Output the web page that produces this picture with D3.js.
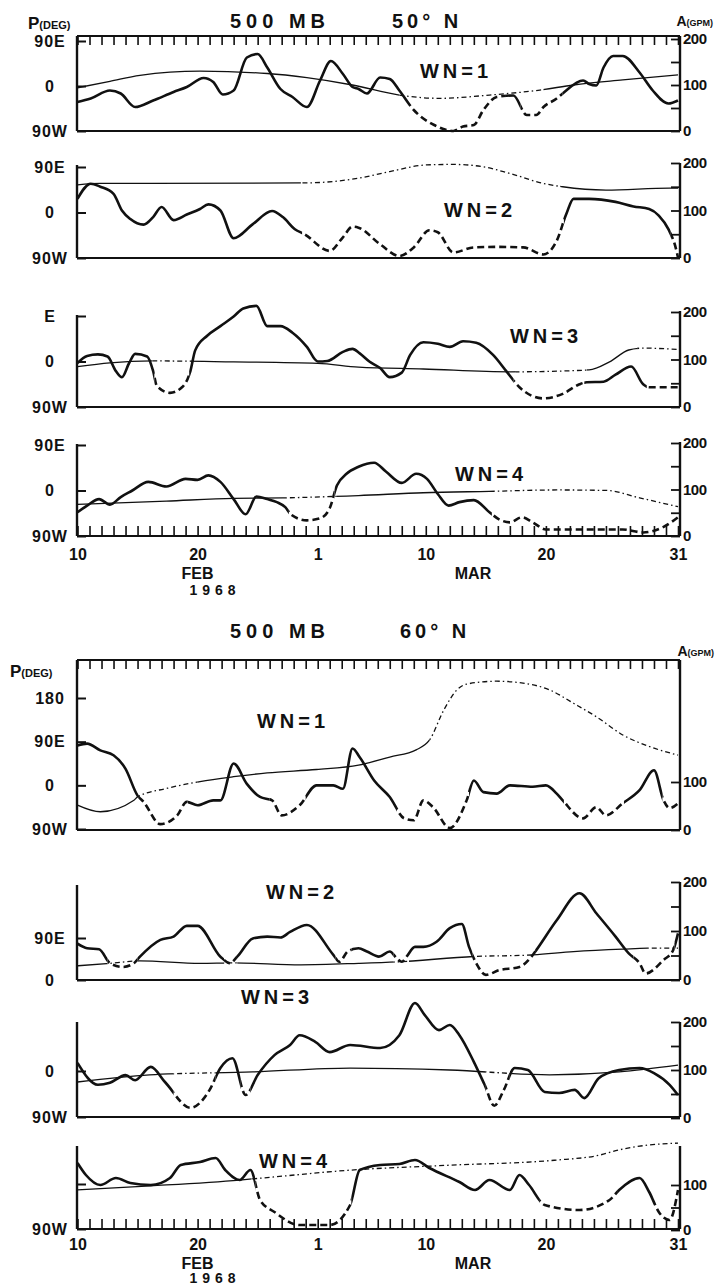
<!DOCTYPE html>
<html><head><meta charset="utf-8">
<script src="https://cdn.jsdelivr.net/npm/d3@7"></script>
<style>
body{margin:0;background:#fff}
text{font-family:"Liberation Sans",Arial,sans-serif;fill:#111}
</style>
</head><body>
<svg id="c" width="717" height="1285"></svg>
<script>
// ---------- DATA (day index: 0 = 10 Feb 1968, 50 = 31 Mar 1968) ----------
const xTickDays = d3.range(0, 51);
const xLabelDays = [0, 10, 20, 29, 39, 50];
const xLabelText = ["10", "20", "1", "10", "20", "31"];

// 50N WN=1
const n50w1Phase = [[0,-32],[1.1,-25],[2.7,-9],[3.6,-15],[4.8,-42],[6.3,-29],[8,-12],[9.1,-2],[10.5,16],[11.3,8],[12.1,-17],[13,-9],[14.1,57],[15,64],[15.8,37],[16.9,-6],[17.9,-22],[19.1,-42],[20.2,11],[21.1,50],[22.1,24],[22.9,-2],[23.4,-6],[24.1,-15],[25.2,17],[26,14],[26.8,-9],[28,-48],[29.7,-78],[31.3,-90],[32.1,-81],[33,-78],[33.8,-48],[34.9,-22],[36.3,-19],[37.4,-58],[38.2,-58],[38.8,-42],[39.9,-25],[40.4,-15],[42.1,11],[42.6,4],[43.2,1],[43.8,37],[44.6,60],[45.4,60],[46.8,27],[47.9,-9],[49.2,-35],[50,-29]];
const n50w1Amp = [[0,94],[2.7,108],[5.2,121],[10.2,130],[15.8,125],[19.1,116],[22.9,100],[26.8,78],[30.1,71],[34.3,78],[38.5,89],[41.3,100],[45.4,111],[50,122]];
const n50w1PhaseDash = [[27.6,35.6],[36.9,40.4]];
const n50w1AmpDash = [[26.8,38.8]];

// 50N WN=2
const n50w2Phase = [[0,27],[1.1,57],[1.9,51],[3,37],[3.7,4],[4.4,-13],[5.5,-24],[6.3,-9],[7,11],[8,-15],[9.1,-4],[10.2,7],[10.9,16],[11.9,4],[13,-51],[14.6,-23],[16.2,3],[17.1,-9],[18.1,-33],[18.9,-43],[21,-76],[22.1,-49],[22.9,-28],[23.4,-30],[25.2,-63],[26.8,-86],[28,-69],[29.3,-35],[30,-39],[31.3,-79],[33,-69],[34.9,-68],[37.1,-69],[38.8,-83],[39.9,-56],[40.7,-3],[41.3,27],[42.6,27],[44.8,21],[46.3,12],[47.6,7],[48.4,-6],[49.2,-33],[49.8,-69],[50,-89]];
const n50w2Amp = [[0,154],[1.9,157],[6,157],[18.9,158],[23.4,168],[26,182],[29.1,196],[31.3,197],[33.8,192],[36,178],[38.8,157],[40.4,150],[44,143],[49.3,147],[50,147]];
const n50w2PhaseDash = [[18.7,40.5],[49.4,50]];
const n50w2AmpDash = [[18.6,40.2]];

// 50N WN=3
const n50w3Phase = [[0,-3],[0.8,11],[1.7,14],[2.5,10],[3.2,-19],[3.7,-31],[4.3,-3],[4.8,15],[5.8,10],[6.3,-19],[6.6,-48],[7.7,-62],[8.7,-51],[9.4,-19],[9.8,22],[10.8,51],[11.9,70],[13,89],[13.8,105],[14.9,110],[15.8,70],[16.9,70],[17.9,57],[19.1,29],[20,0],[20.8,1],[22.1,19],[22.9,25],[23.5,16],[24.3,0],[25.2,-13],[26,-31],[27,-22],[27.7,13],[28.8,38],[30,35],[31,29],[32.1,40],[33.2,37],[34.6,13],[35.7,-19],[36.8,-51],[38.8,-73],[40.4,-64],[41.8,-45],[42.4,-41],[43.8,-40],[44.8,-26],[46.1,-10],[47.1,-45],[47.6,-51],[49,-51],[50,-51]];
const n50w3Amp = [[0,85],[2.7,93],[6.3,97],[13,95],[20,92],[23.4,84],[28.8,80],[36,74],[42.6,78],[44.3,95],[45.9,120],[47.1,124],[50,121]];
const n50w3PhaseDash = [[6.4,9.3],[36.3,42.2],[47.4,50]];
const n50w3AmpDash = [[6.2,9.6],[36.5,42.4],[46.6,50]];

// 50N WN=4
const n50w4Phase = [[0,-43],[0.8,-30],[1.8,-17],[2.7,-28],[3.6,-13],[4.5,-1],[5.9,17],[7.4,8],[9,23],[10,21],[10.9,30],[11.9,17],[13,-17],[14,-47],[14.9,-12],[15.8,-17],[16.6,-23],[17.3,-33],[17.8,-48],[19.1,-59],[20.2,-55],[21,-35],[21.6,10],[22.4,33],[23.4,47],[24.7,55],[25.7,37],[27,15],[28.2,33],[29.1,23],[30,-7],[30.9,-30],[31.8,-23],[33,-19],[34.3,-43],[35.1,-57],[36,-63],[37,-53],[37.9,-63],[39,-77],[41.3,-77],[45.4,-77],[47.1,-83],[48.8,-72],[50,-53]];
const n50w4Amp = [[0,68],[7.4,75],[13,81],[17.1,82],[23.4,87],[28.8,93],[34.3,96],[39.9,99],[44,98],[46.8,82],[50,63]];
const n50w4PhaseDash = [[17.6,21.4],[34.5,50]];
const n50w4AmpDash = [[17.4,21.6],[34.7,50]];

// 60N WN=1
const n60w1Phase = [[0,82],[0.8,86],[1.9,72],[3,62],[4,34],[5,-21],[5.5,-34],[6.9,-80],[8.3,-62],[9.1,-34],[10,-41],[11.3,-31],[11.9,-31],[13,45],[14.1,3],[15.2,-24],[16.2,-31],[17,-62],[18.5,-41],[19.9,0],[21.3,0],[22.1,-7],[22.9,76],[23.5,58],[24.7,10],[26,-24],[27.2,-68],[28,-72],[28.8,-31],[29.6,-45],[31,-88],[32.4,-31],[33,10],[33.8,-14],[34.9,-17],[36,0],[37.9,-3],[39,0],[39.9,-17],[40.4,-31],[42.1,-68],[43.2,-45],[44,-62],[45.4,-37],[46.8,-10],[48,31],[48.8,-31],[49.3,-47],[50,-37]];
const n60w1Amp = [[0,52],[1.9,38],[4.7,62],[5,69],[7.5,87],[10.2,101],[13,111],[15.8,119],[19.9,126],[23.4,135],[26,152],[28.2,167],[29.3,187],[30.5,250],[31.6,292],[32.4,304],[34.9,310],[37.1,306],[39.3,292],[41.3,264],[43.2,236],[45.4,198],[47.6,174],[50,156]];
const n60w1PhaseDash = [[5.1,9.2],[16,19],[26.6,32.6],[40.5,45.5],[48.7,50]];
const n60w1AmpDash = [[5,10],[29.3,50]];

// 60N WN=2
const n60w2Phase = [[0,78],[0.8,68],[1.8,66],[2.7,36],[3.8,28],[4.7,36],[5.2,50],[6.9,86],[8,93],[9.1,116],[10,116],[11.9,50],[12.7,36],[13.3,50],[14.6,89],[15.8,93],[16.9,91],[17.7,103],[19.1,118],[21.3,54],[21.8,39],[22.5,61],[23.4,68],[24.1,61],[25.1,50],[26,61],[26.6,46],[27,39],[27.4,50],[28.1,71],[28.8,71],[29.9,82],[31,111],[32,120],[32.6,71],[33.2,36],[34,11],[35.1,21],[36.8,28],[37.8,50],[38.2,64],[39.9,128],[41.8,186],[43.2,143],[44.8,93],[45.9,57],[46.8,36],[47.3,14],[48.8,43],[49.6,64],[50,100]];
const n60w2Amp = [[0,29],[2.7,34],[5.2,39],[10.2,34],[13,35],[18.6,31],[23.4,34],[26.6,37],[33,48],[37.8,51],[41.3,58],[45.4,63],[48,65],[50,65]];
const n60w2PhaseDash = [[2.5,5],[12.2,13.2],[21.5,22.8],[26.3,27.6],[32.9,38.1],[46.3,49.7]];
const n60w2AmpDash = [[2.5,5],[12.2,13.3],[26.3,27.6],[33,38],[47.5,50]];

// 60N WN=3
const n60w3Phase = [[0,16],[1.7,-27],[2.7,-23],[4,-8],[4.8,-18],[6.1,8],[7.3,-22],[9.4,-72],[11,-37],[11.9,6],[12.9,25],[14,-47],[15,-8],[16.4,31],[17.7,51],[18.5,70],[19.8,57],[21,37],[22.7,51],[25.2,45],[26.8,70],[28.1,133],[28.9,110],[30.1,80],[31,90],[31.8,70],[33,18],[33.9,-27],[34.7,-68],[35.5,-37],[36.4,6],[37.5,2],[38.9,-41],[40.1,-43],[41.4,-37],[42.2,-53],[43.4,-14],[45.1,2],[46.8,6],[48,-4],[49.3,-27],[50,-47]];
const n60w3Amp = [[0,75],[6,90],[14.6,96],[22.7,104],[31,100],[39.3,90],[45.1,96],[50,110]];
const n60w3PhaseDash = [[8,11.5],[13.6,14.4],[34,36]];
const n60w3AmpDash = [[8,11.5],[34,36]];

// 60N WN=4
const n60w4Phase = [[0,42],[0.7,18],[1.9,-2],[3.2,12],[4.4,2],[6.1,-2],[7.7,12],[8.6,38],[10.2,44],[11.5,52],[12.3,28],[13.5,8],[14.4,28],[15.2,-32],[16.4,-56],[18.5,-82],[21,-82],[22.7,-42],[23.5,28],[25.2,38],[26.8,40],[28.1,48],[29.3,32],[31.8,4],[33.1,-12],[34.3,8],[36,-12],[36.8,18],[37.6,-2],[38.9,-42],[41.8,-52],[44.3,-32],[45.1,-12],[46.8,12],[47.6,-16],[48.4,-56],[49.3,-72],[50,-12]];
const n60w4Amp = [[0,89],[6.1,98],[13.5,111],[15.2,115],[22.7,133],[31,144],[39.7,155],[43.4,166],[45.1,178],[47.6,189],[50,193]];
const n60w4PhaseDash = [[14.8,22.8],[38.5,45],[48,50]];
const n60w4AmpDash = [[14.5,50]];

const labels50 = ["WN=1", "WN=2", "WN=3", "WN=4"];
const labels60 = ["WN=1", "WN=2", "WN=3", "WN=4"];

// ---------- LAYOUT ----------
const svg = d3.select("#c");
const X0 = 77, X1 = 680;
const x = d3.scaleLinear().domain([0, 50]).range([X0 + 0.5, X1 - 2]);

const panels = [
  {ph:n50w1Phase, am:n50w1Amp, phD:n50w1PhaseDash, amD:n50w1AmpDash, top:36, bot:131, lTop:36, rTop:36,
   pDom:[-90,90], pRng:[131,41], aDom:[0,200], aRng:[131,39], lt:[[90,"90E"],[0,"0"],[-90,"90W"]], rt:[0,50,100,150,200], rl:[0,100,200],
   topAxis:true, botAxis:false, wn:labels50[0], wx:456, wy:78},
  {ph:n50w2Phase, am:n50w2Amp, phD:n50w2PhaseDash, amD:n50w2AmpDash, bot:258, lTop:165, rTop:163,
   pDom:[-90,90], pRng:[258,167], aDom:[0,200], aRng:[258,163], lt:[[90,"90E"],[0,"0"],[-90,"90W"]], rt:[0,50,100,150,200], rl:[0,100,200],
   wn:labels50[1], wx:480, wy:217},
  {ph:n50w3Phase, am:n50w3Amp, phD:n50w3PhaseDash, amD:n50w3AmpDash, bot:407, lTop:315, rTop:311,
   pDom:[-90,90], pRng:[407,316], aDom:[0,200], aRng:[407,312], lt:[[90,"E"],[0,"0"],[-90,"90W"]], rt:[0,50,100,150,200], rl:[0,100,200],
   wn:labels50[2], wx:546, wy:343},
  {ph:n50w4Phase, am:n50w4Amp, phD:n50w4PhaseDash, amD:n50w4AmpDash, bot:536, lTop:444, rTop:442,
   pDom:[-90,90], pRng:[536,445], aDom:[0,200], aRng:[536,443], lt:[[90,"90E"],[0,"0"],[-90,"90W"]], rt:[0,50,100,150,200], rl:[0,100,200],
   botAxis:true, xPad:13, wn:labels50[3], wx:491, wy:481},

  {ph:n60w1Phase, am:n60w1Amp, phD:n60w1PhaseDash, amD:n60w1AmpDash, top:660, bot:830, lTop:660, rTop:660,
   pDom:[-90,180], pRng:[829,698], aDom:[0,100], aRng:[830,782], lt:[[180,"180"],[90,"90E"],[0,"0"],[-90,"90W"]], rt:[0,100], rl:[0,100],
   topAxis:true, wn:labels60[0], wx:293, wy:728},
  {ph:n60w2Phase, am:n60w2Amp, phD:n60w2PhaseDash, amD:n60w2AmpDash, bot:980, lTop:885, rTop:882,
   pDom:[0,90], pRng:[980,938], aDom:[0,200], aRng:[980,882], lt:[[90,"90E"],[0,"0"]], rt:[0,50,100,150,200], rl:[0,100,200],
   wn:labels60[1], wx:302, wy:899},
  {ph:n60w3Phase, am:n60w3Amp, phD:n60w3PhaseDash, amD:n60w3AmpDash, bot:1117, lTop:1022, rTop:1022,
   pDom:[-90,0], pRng:[1117,1071], aDom:[0,200], aRng:[1118,1022], lt:[[0,"0"],[-90,"90W"]], rt:[0,50,100,150,200], rl:[0,100,200],
   wn:labels60[2], wx:277, wy:1004},
  {ph:n60w4Phase, am:n60w4Amp, phD:n60w4PhaseDash, amD:n60w4AmpDash, bot:1229, lTop:1146, rTop:1146,
   pDom:[-90,0], pRng:[1229,1184], aDom:[0,100], aRng:[1230,1185], lt:[[0,""],[-90,"90W"]], rt:[0,50,100], rl:[0,100],
   botAxis:true, xPad:10, wn:labels60[3], wx:295, wy:1168}
];

function complement(iv) {
  const out = []; let s = 0;
  iv.forEach(([a, b]) => { if (a > s) out.push([s, a]); s = b; });
  if (s < 50) out.push([s, 50]);
  return out;
}

const defs = svg.append("defs");
let clipId = 0;
function makeClip(intervals) {
  const id = "clip" + (clipId++);
  const cp = defs.append("clipPath").attr("id", id);
  intervals.forEach(([a, b]) => {
    const xa = a <= 0 ? 0 : x(a), xb = b >= 50 ? 717 : x(b);
    cp.append("rect").attr("x", xa).attr("y", 0).attr("width", Math.max(0, xb - xa)).attr("height", 1285);
  });
  return "url(#" + id + ")";
}

const ink = "#111";

panels.forEach(p => {
  const g = svg.append("g");
  const pS = d3.scaleLinear().domain(p.pDom).range(p.pRng);
  const aS = d3.scaleLinear().domain(p.aDom).range(p.aRng);

  // left axis
  g.append("line").attr("x1", X0).attr("x2", X0).attr("y1", p.lTop).attr("y2", p.bot)
    .attr("stroke", ink).attr("stroke-width", 2.4);
  const la = d3.axisLeft(pS).tickValues(p.lt.map(d => d[0])).tickSizeInner(-9).tickSizeOuter(0)
    .tickFormat(v => (p.lt.find(d => d[0] === v) || [0, ""])[1]);
  const lg = g.append("g").attr("transform", `translate(${X0},0)`).call(la);
  lg.select(".domain").remove();
  lg.selectAll(".tick line").attr("stroke", ink).attr("stroke-width", 2);
  lg.selectAll(".tick text").attr("x", -27).attr("text-anchor", "middle")
    .style("font-size", "16px").style("font-weight", "bold").style("letter-spacing", "1px").attr("fill", ink);

  // right axis
  g.append("line").attr("x1", X1).attr("x2", X1).attr("y1", p.rTop).attr("y2", p.bot)
    .attr("stroke", ink).attr("stroke-width", 2.4);
  const ra = d3.axisRight(aS).tickValues(p.rt).tickSizeInner(-9).tickSizeOuter(0).tickPadding(3)
    .tickFormat(v => p.rl.includes(v) ? String(v) : "");
  const rg = g.append("g").attr("transform", `translate(${X1},0)`).call(ra);
  rg.select(".domain").remove();
  rg.selectAll(".tick line").attr("stroke", ink).attr("stroke-width", 1.8);
  rg.selectAll(".tick text").style("font-size", "15px").style("font-weight", "bold").style("letter-spacing", "-0.5px").attr("fill", ink);

  // bottom line
  if (p.botAxis) {
    const ba = d3.axisBottom(x).tickValues(xTickDays).tickSizeInner(-10).tickSizeOuter(0).tickPadding(p.xPad)
      .tickFormat(d => { const i = xLabelDays.indexOf(d); return i >= 0 ? xLabelText[i] : ""; });
    const bg = g.append("g").attr("transform", `translate(0,${p.bot})`).call(ba);
    bg.select(".domain").remove();
    bg.selectAll(".tick line").attr("stroke", ink).attr("stroke-width", 1.6);
    bg.selectAll(".tick text").style("font-size", "16px").style("font-weight", "bold").attr("fill", ink);
  }
  g.append("line").attr("x1", X0).attr("x2", X1).attr("y1", p.bot).attr("y2", p.bot)
    .attr("stroke", ink).attr("stroke-width", 2.2);

  // top line with ticks
  if (p.topAxis) {
    const ta = d3.axisTop(x).tickValues(xTickDays).tickSizeInner(-9).tickSizeOuter(0).tickFormat("");
    const tg = g.append("g").attr("transform", `translate(0,${p.top})`).call(ta);
    tg.select(".domain").remove();
    tg.selectAll(".tick line").attr("stroke", ink).attr("stroke-width", 1.6);
    g.append("line").attr("x1", X0).attr("x2", X1).attr("y1", p.top).attr("y2", p.top)
      .attr("stroke", ink).attr("stroke-width", 2.2);
  }

  // amplitude (thin)
  const aLine = d3.line().x(d => x(d[0])).y(d => aS(d[1])).curve(d3.curveMonotoneX);
  g.append("path").datum(p.am).attr("d", aLine).attr("fill", "none").attr("stroke", ink)
    .attr("stroke-width", 1.3).attr("clip-path", makeClip(complement(p.amD)));
  g.append("path").datum(p.am).attr("d", aLine).attr("fill", "none").attr("stroke", ink)
    .attr("stroke-width", 1.3).attr("stroke-dasharray", "5,3,1.5,3").attr("clip-path", makeClip(p.amD));

  // phase (thick)
  const pLine = d3.line().x(d => x(d[0])).y(d => pS(d[1])).curve(d3.curveMonotoneX);
  g.append("path").datum(p.ph).attr("d", pLine).attr("fill", "none").attr("stroke", ink)
    .attr("stroke-width", 2.6).attr("stroke-linejoin", "round").attr("clip-path", makeClip(complement(p.phD)));
  g.append("path").datum(p.ph).attr("d", pLine).attr("fill", "none").attr("stroke", ink)
    .attr("stroke-width", 2.6).attr("stroke-dasharray", "7,4").attr("clip-path", makeClip(p.phD));

  // wave number label
  g.append("text").attr("x", p.wx).attr("y", p.wy).attr("text-anchor", "middle")
    .style("font-size", "20px").style("font-weight", "bold").style("letter-spacing", "4px").text(p.wn);
});

// ---------- TITLES & AXIS NAMES ----------
function title(y, lat) {
  svg.append("text").attr("x", 230).attr("y", y).style("font-size", "20px").style("font-weight", "bold")
    .style("letter-spacing", "5px").text("500 MB");
  svg.append("text").attr("x", lat[1]).attr("y", y).style("font-size", "20px").style("font-weight", "bold")
    .style("letter-spacing", "4px").text(lat[0]);
}
title(28, ["50° N", 392]);
title(638, ["60° N", 400]);

function pdeg(xp, y) {
  const t = svg.append("text").attr("x", xp).attr("y", y).style("font-size", "17px").style("font-weight", "bold");
  t.append("tspan").text("P");
  t.append("tspan").style("font-size", "11px").text("(DEG)");
}
function agpm(xe, y) {
  const t = svg.append("text").attr("x", xe).attr("y", y).attr("text-anchor", "end").style("font-size", "14px").style("font-weight", "bold");
  t.append("tspan").text("A");
  t.append("tspan").style("font-size", "9px").text("(GPM)");
}
pdeg(28, 29); agpm(713, 26);
pdeg(10, 677); agpm(714, 656);

function dateLabels(yFeb, yYear) {
  svg.append("text").attr("x", x(10)).attr("y", yFeb).attr("text-anchor", "middle").style("font-size", "16px").style("font-weight", "bold").text("FEB");
  svg.append("text").attr("x", 473).attr("y", yFeb).attr("text-anchor", "middle").style("font-size", "16px").style("font-weight", "bold").text("MAR");
  svg.append("text").attr("x", 215).attr("y", yYear).attr("text-anchor", "middle").style("font-size", "14px").style("font-weight", "bold")
    .style("letter-spacing", "5px").text("1968");
}
dateLabels(579, 595);
dateLabels(1269, 1283);
</script>
</body></html>
